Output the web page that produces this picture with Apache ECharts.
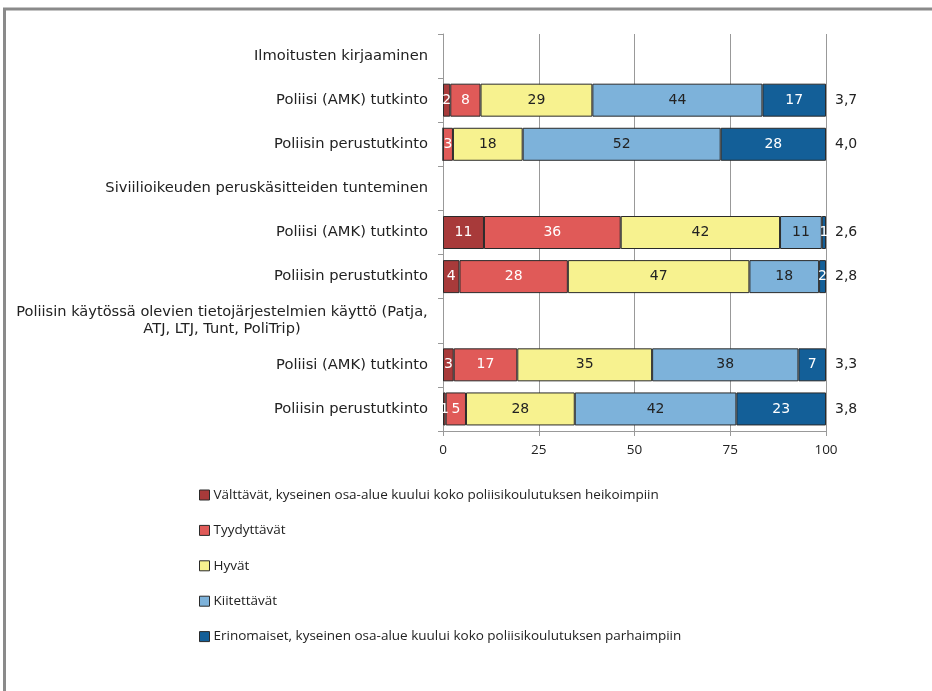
<!DOCTYPE html>
<html><head><meta charset="utf-8">
<script src="https://cdn.jsdelivr.net/npm/echarts@6/dist/echarts.min.js"></script>
<style>html,body{margin:0;padding:0;background:#fff}#c{width:932px;height:691px}</style>
</head><body><div id="c"></div>
<script>
const categories = [
  "Ilmoitusten kirjaaminen",
  "Poliisi (AMK) tutkinto",
  "Poliisin perustutkinto",
  "Siviilioikeuden peruskäsitteiden tunteminen",
  "Poliisi (AMK) tutkinto",
  "Poliisin perustutkinto",
  "Poliisin käytössä olevien tietojärjestelmien käyttö (Patja,\nATJ, LTJ, Tunt, PoliTrip)",
  "Poliisi (AMK) tutkinto",
  "Poliisin perustutkinto"
];
const seriesNames = [
  "Välttävät, kyseinen osa-alue kuului koko poliisikoulutuksen heikoimpiin",
  "Tyydyttävät",
  "Hyvät",
  "Kiitettävät",
  "Erinomaiset, kyseinen osa-alue kuului koko poliisikoulutuksen parhaimpiin"
];
const valttavat   = [null, 1.9, 0,    null, 10.7, 4.3,  null, 2.8,  0.7];
const tyydyttavat = [null, 7.9, 2.6,  null, 35.7, 28.3, null, 16.6, 5.3];
const hyvat       = [null, 29.2, 18.2, null, 41.6, 47.4, null, 35.2, 28.4];
const kiitettavat = [null, 44.4, 51.7, null, 10.9, 18.2, null, 38.2, 42.2];
const erinomaiset = [null, 16.6, 27.5, null, 1.1,  1.8,  null, 7.2,  23.4];
const means = ["", "3,7", "4,0", "", "2,6", "2,8", "", "3,3", "3,8"];
const xTicks = [0, 25, 50, 75, 100];

const colors = ["#A83A3A", "#E05A58", "#F7F28F", "#7DB2DA", "#135F98"];
const labelColors = ["#fff", "#fff", "#222", "#222", "#fff"];
const values = [valttavat, tyydyttavat, hyvat, kiitettavat, erinomaiset];
const AXF = "DejaVu Sans";
const FONT = "Open Sans";

const series = values.map((d, i) => ({
  name: seriesNames[i],
  type: 'bar',
  stack: 'total',
  barWidth: 33,
  data: d,
  itemStyle: { color: colors[i], borderColor: '#2a2a2a', borderWidth: 1 },
  label: {
    show: true, position: 'inside', color: labelColors[i],
    fontFamily: AXF, fontSize: 14, 
    formatter: p => (p.value == null || p.value === 0) ? '' : String(Math.round(p.value))
  },
  emphasis: { disabled: true }
}));

const chart = echarts.init(document.getElementById('c'), null, { renderer: 'canvas' });
chart.setOption({
  animation: false,
  backgroundColor: '#fff',
  color: colors,
  grid: { left: 443, right: 106, top: 34, bottom: 260, containLabel: false },
  xAxis: {
    type: 'value', min: 0, max: 100, interval: 25,
    axisLine: { show: true, lineStyle: { color: '#999' } },
    axisTick: { show: true, length: 5, lineStyle: { color: '#999' } },
    splitLine: { show: true, lineStyle: { color: '#999', width: 1 } },
    axisLabel: { fontFamily: FONT, fontSize: 13.5, color: '#222', margin: 12,
      formatter: v => xTicks.includes(v) ? String(v) : '' }
  },
  yAxis: [{
    type: 'category', inverse: true, data: categories,
    axisLine: { show: true, lineStyle: { color: '#999' } },
    axisTick: { show: true, length: 5, lineStyle: { color: '#999' } },
    axisLabel: {
      fontFamily: AXF, fontSize: 14.7, color: '#222', margin: 15, lineHeight: 17,
      formatter: (v, i) => {
        if (v.indexOf('\n') >= 0) {
          return v.split('\n').map(s => '{c|' + s + '}').join('\n');
        }
        return v;
      },
      rich: { c: { width: 412, align: 'center', fontFamily: AXF, fontSize: 14.6, color: '#222', lineHeight: 17 } }
    }
  }, {
    type: 'category', inverse: true, data: means, position: 'right',
    axisLine: { show: false }, axisTick: { show: false },
    axisLabel: { fontFamily: AXF, fontSize: 14, color: '#222', margin: 9 }
  }],
  legend: {
    orient: 'vertical', left: 194, top: 483, itemGap: 21.4,
    itemWidth: 10, itemHeight: 10, icon: 'rect',
    itemStyle: { borderColor: '#2a2a2a', borderWidth: 1 },
    textStyle: { fontFamily: FONT, fontSize: 13.5, color: '#222', padding: [0, 0, 0, -1] },
    data: seriesNames
  },
  graphic: [
    { type: 'line', shape: { x1: 3, y1: 9, x2: 932, y2: 9 }, style: { stroke: '#8a8a8a', lineWidth: 3 } },
    { type: 'line', shape: { x1: 4.5, y1: 8, x2: 4.5, y2: 691 }, style: { stroke: '#8a8a8a', lineWidth: 3 } }
  ],
  series: series
});
</script></body></html>
